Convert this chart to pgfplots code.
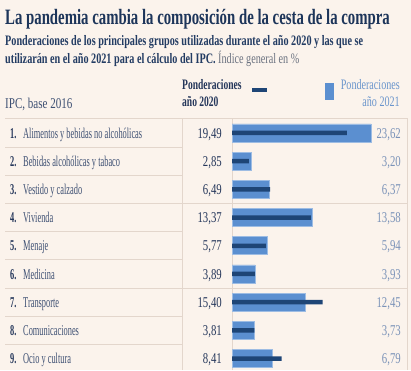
\documentclass[border=0pt]{standalone}
\usepackage{pgfplots}
\pgfplotsset{compat=1.18}
\usepackage{fontspec}
\setmainfont[FakeStretch=0.66]{Liberation Serif}
\newfontfamily\ttlf[FakeStretch=0.675]{Liberation Serif}
\newfontfamily\subf[FakeStretch=0.705]{Liberation Serif}
\newfontfamily\labf[FakeStretch=0.56]{Liberation Serif}
\newfontfamily\numf[FakeStretch=0.72]{Liberation Serif}
\newfontfamily\hdrf[FakeStretch=0.70]{Liberation Serif}
\newfontfamily\ipcf[FakeStretch=0.74]{Liberation Serif}
\definecolor{bg}{HTML}{FBF3EC}
\definecolor{ttl}{HTML}{1D355A}
\definecolor{sub}{HTML}{233C63}
\definecolor{gry}{HTML}{6B7280}
\definecolor{lab}{HTML}{3E5073}
\definecolor{num}{HTML}{24365A}
\definecolor{vtwo}{HTML}{7A92B8}
\definecolor{hdr}{HTML}{6A95CC}
\definecolor{lbar}{HTML}{5B8FD0}
\definecolor{dbar}{HTML}{1E4576}
\definecolor{sep}{HTML}{E3D6CC}
\begin{document}
\begin{tikzpicture}
\begin{scope}[x=1bp,y=1bp]
\fill[bg] (0,0) rectangle (411,370);
\draw[sep,line width=1bp] (5,251.5) -- (407,251.5);
\foreach \py in {147.1,175.3,231.7,259.9,316.3,344.5}{\draw[sep,line width=1bp] (5,370-\py) -- (182,370-\py);}
\foreach \py in {203.5,288.1}{\draw[sep,line width=1bp] (5,370-\py) -- (407,370-\py);}
\foreach \px in {182,232,407}{\draw[sep,line width=1bp] (\px,0) -- (\px,251.5);}
\end{scope}
\begin{axis}[at={(0,0)},anchor=south west,width=411bp,height=370bp,scale only axis,hide axis,
  xmin=-39.389,xmax=30.390,ymin=0,ymax=370,clip=false]
\addplot[xbar,bar width=18,bar shift=0,fill=lbar,draw=lbar!60!white,line width=0.6bp] coordinates {
(23.62,237) (3.20,208.8) (6.37,180.6) (13.58,152.4) (5.94,124.2) (3.93,96) (12.45,67.8) (3.73,39.6) (6.79,11.4)};
\addplot[xbar,bar width=4.5,bar shift=0,fill=dbar,draw=none] coordinates {
(19.49,237) (2.85,208.8) (6.49,180.6) (13.37,152.4) (5.77,124.2) (3.89,96) (15.40,67.8) (3.81,39.6) (8.41,11.4)};
\end{axis}
\begin{scope}[x=1bp,y=1bp,inner sep=0pt]
\node[anchor=base west,text=ttl,font=\fontsize{22}{22}\ttlf\bfseries] at (5,346) {La pandemia cambia la composición de la cesta de la compra};
\node[anchor=base west,text=sub,font=\fontsize{14.5}{14.5}\subf\bfseries] at (5,324.5) {Ponderaciones de los principales grupos utilizadas durante el año 2020 y las que se};
\node[anchor=base west,text=sub,font=\fontsize{14.5}{14.5}\subf] at (5,306.5) {\textbf{utilizarán en el año 2021 para el cálculo del IPC.} \textcolor{gry}{Índice general en \%}};
\node[anchor=base west,text=lab,font=\fontsize{15}{15}\ipcf] at (5,262) {IPC, base 2016};
\node[anchor=base west,text=num,font=\fontsize{14.5}{14.5}\selectfont\bfseries] at (182,281) {Ponderaciones};
\node[anchor=base west,text=num,font=\fontsize{14.5}{14.5}\selectfont\bfseries] at (182,264) {año 2020};
\node[anchor=base east,text=hdr,font=\fontsize{14.5}{14.5}\hdrf] at (400,281) {Ponderaciones};
\node[anchor=base east,text=hdr,font=\fontsize{14.5}{14.5}\hdrf] at (400,264) {año 2021};
\fill[dbar] (252,370-92.5) rectangle (267,370-88.5);
\fill[lbar] (325,370-100) rectangle (334,370-83);
\foreach \i/\lbl/\va/\vb in {1/{Alimentos y bebidas no alcohólicas}/{19,49}/{23,62},
  2/{Bebidas alcohólicas y tabaco}/{2,85}/{3,20},
  3/{Vestido y calzado}/{6,49}/{6,37},
  4/{Vivienda}/{13,37}/{13,58},
  5/{Menaje}/{5,77}/{5,94},
  6/{Medicina}/{3,89}/{3,93},
  7/{Transporte}/{15,40}/{12,45},
  8/{Comunicaciones}/{3,81}/{3,73},
  9/{Ocio y cultura}/{8,41}/{6,79}}{
  \pgfmathsetmacro{\yy}{370-133-28.2*(\i-1)-5}
  \node[anchor=base west,text=num,font=\fontsize{15}{15}\labf\bfseries] at (10,\yy) {\i.};
  \node[anchor=base west,text=lab,font=\fontsize{15}{15}\labf] at (23,\yy) {\lbl};
  \node[anchor=base east,text=num,font=\fontsize{15}{15}\numf] at (222,\yy) {\va};
  \node[anchor=base east,text=vtwo,font=\fontsize{15}{15}\numf] at (401,\yy) {\vb};
}
\end{scope}
\end{tikzpicture}
\end{document}
